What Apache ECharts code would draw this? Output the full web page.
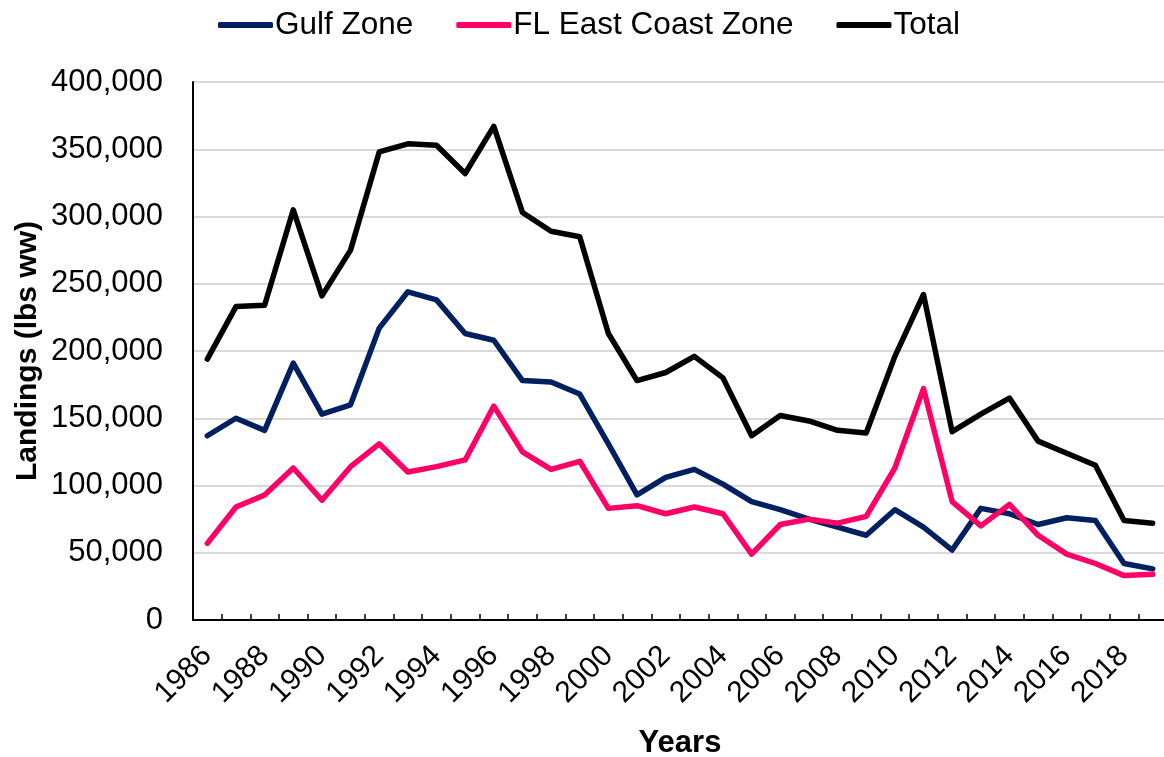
<!DOCTYPE html>
<html>
<head>
<meta charset="utf-8">
<title>Landings</title>
<script src="https://cdn.jsdelivr.net/npm/echarts@6/dist/echarts.min.js"></script>
<style>
  html, body { margin: 0; padding: 0; background: #fff; }
  #main { width: 1164px; height: 757px; }
</style>
</head>
<body>
<div id="main"></div>
<script>
// years on the x axis
var years = ['1986','1987','1988','1989','1990','1991','1992','1993','1994','1995',
             '1996','1997','1998','1999','2000','2001','2002','2003','2004','2005',
             '2006','2007','2008','2009','2010','2011','2012','2013','2014','2015',
             '2016','2017','2018','2019']

// landings, lbs ww
var gulfZone = [137000,150000,141000,191000,153000,160000,217000,244000,238000,213000,
                208000,178000,177000,168000,131000,93000,106000,112000,101000,88000,
                82000,75000,69000,63000,82000,69000,52000,83000,79000,71000,
                76000,74000,42000,38000]
var flEastCoast = [57000,84000,93000,113000,89000,114000,131000,110000,114000,119000,
                   159000,125000,112000,118000,83000,85000,79000,84000,79000,49000,
                   71000,75000,72000,77000,113000,172000,88000,70000,86000,63000,
                   49000,42000,33000,34000]
var total = [194000,233000,234000,305000,241000,275000,348000,354000,353000,332000,
             367000,303000,289000,285000,213000,178000,184000,196000,180000,137000,
             152000,148000,141000,139000,196000,242000,140000,153000,165000,133000,
             124000,115000,74000,72000]

var seriesNames = ['Gulf Zone', 'FL East Coast Zone', 'Total']
var colors = ['#002060', '#ff0066', '#000000']
var font = 'Liberation Sans, Arial, sans-serif'

var myChart = echarts.init(document.getElementById('main'))

function lineSeries (name, data, color) {
    return {
        name: name,
        type: 'line',
        data: data,
        symbol: 'none',
        smooth: false,
        lineStyle: { color: color, width: 5.5, cap: 'round', join: 'round' },
        itemStyle: { color: color }
    }
}

var option = {
    animation: false,
    backgroundColor: '#fff',
    textStyle: { fontFamily: font },
    legend: {
        data: seriesNames,
        left: 213,
        top: 4,
        itemWidth: 55,
        itemHeight: 6,
        itemGap: 43,
        icon: 'roundRect',
        textStyle: { fontSize: 31.5, color: '#000', fontFamily: font, padding: [0, 0, 0, -3] }
    },
    grid: {
        left: 193,
        right: -3,
        top: 82,
        bottom: 137,
        containLabel: false,
        outerBoundsMode: 'none'
    },
    xAxis: {
        type: 'category',
        data: years,
        boundaryGap: true,
        name: 'Years',
        nameLocation: 'middle',
        nameGap: 108,
        nameMoveOverlap: false,
        nameTextStyle: { fontSize: 31, fontWeight: 'bold', color: '#000', fontFamily: font },
        axisLine: { lineStyle: { color: '#000', width: 2 } },
        axisTick: { show: true, inside: true, length: 6, interval: 0, lineStyle: { color: '#000', width: 1.5 } },
        axisLabel: { interval: 1, rotate: 45, fontSize: 30, color: '#000', margin: 31, fontFamily: font },
        splitLine: { show: false }
    },
    yAxis: {
        type: 'value',
        min: 0,
        max: 400000,
        interval: 50000,
        name: 'Landings (lbs ww)',
        nameLocation: 'middle',
        nameRotate: 90,
        nameGap: 150,
        nameMoveOverlap: false,
        nameTextStyle: { fontSize: 30, fontWeight: 'bold', color: '#000', fontFamily: font },
        axisLine: { show: true, lineStyle: { color: '#000', width: 2 } },
        axisTick: { show: false },
        axisLabel: {
            fontSize: 31,
            color: '#000',
            margin: 30,
            fontFamily: font,
            formatter: function (v) { return v.toLocaleString('en-US') }
        },
        splitLine: { lineStyle: { color: '#d9d9d9', width: 2 } }
    },
    series: [
        lineSeries(seriesNames[0], gulfZone, colors[0]),
        lineSeries(seriesNames[1], flEastCoast, colors[1]),
        lineSeries(seriesNames[2], total, colors[2])
    ]
}
myChart.setOption(option)
</script>
</body>
</html>
